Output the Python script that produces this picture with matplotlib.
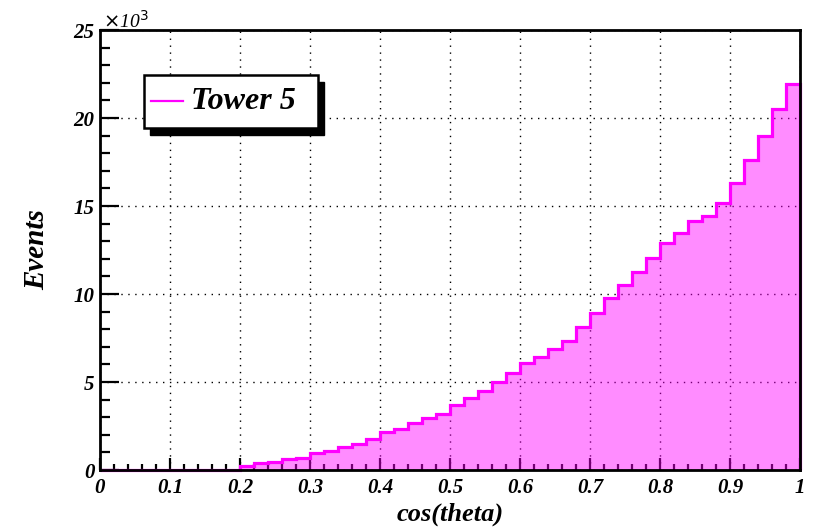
import numpy as np
import matplotlib
matplotlib.use("Agg")
from matplotlib import pyplot as plt
from matplotlib.patches import Rectangle
from matplotlib.lines import Line2D
from matplotlib.ticker import MultipleLocator, FixedLocator

# cos(theta) histogram, 50 bins of 0.02
edges = np.linspace(0.0, 1.0, 51)
counts = [0, 0, 0, 0, 0, 0, 0, 0, 0, 0,
          250, 380, 470, 600, 700, 950, 1100, 1300, 1500, 1780,
          2140, 2340, 2660, 2940, 3180, 3690, 4100, 4490, 5020, 5490,
          6060, 6440, 6860, 7350, 8100, 8940, 9750, 10510, 11270, 12030,
          12880, 13470, 14160, 14450, 15190, 16290, 17610, 18980, 20490, 21930]
x_ticks = [0, 0.1, 0.2, 0.3, 0.4, 0.5, 0.6, 0.7, 0.8, 0.9, 1.0]
x_labels = ["0", "0.1", "0.2", "0.3", "0.4", "0.5", "0.6", "0.7", "0.8", "0.9", "1"]
y_ticks = [0, 5000, 10000, 15000, 20000, 25000]
y_labels = ["0", "5", "10", "15", "20", "25"]
series_name = "Tower 5"

FONT = dict(family="Liberation Serif", weight="bold", style="italic")
MAG = "#ff00ff"

fig = plt.figure(figsize=(8.17, 5.30), dpi=100)
ax = fig.add_axes([100 / 817, 60 / 530, 700 / 817, 440 / 530])

ax.stairs(counts, edges, fill=True, facecolor=MAG, alpha=0.45, edgecolor="none", zorder=2)
ax.stairs(counts, edges, color=MAG, linewidth=2.3, zorder=3, clip_on=False)

ax.set_xlim(0, 1)
ax.set_ylim(0, 25000)

ax.xaxis.set_major_locator(FixedLocator(x_ticks))
ax.set_xticklabels(x_labels, fontdict=FONT, fontsize=15)
ax.xaxis.set_minor_locator(MultipleLocator(0.02))
ax.yaxis.set_major_locator(FixedLocator(y_ticks))
ax.set_yticklabels(y_labels, fontdict=FONT, fontsize=15)
ax.yaxis.set_minor_locator(MultipleLocator(1000))

ax.tick_params(axis="x", which="major", direction="in", length=9, width=1.6, pad=6)
ax.tick_params(axis="x", which="minor", direction="in", length=4, width=1.6)
ax.tick_params(axis="y", which="major", direction="in", length=14, width=1.6, pad=4)
ax.tick_params(axis="y", which="minor", direction="in", length=7, width=1.6)
ax.tick_params(top=False, right=False, which="both")

for s in ax.spines.values():
    s.set_linewidth(2.0)
    s.set_zorder(5)

ax.grid(True, which="major", color="black", linestyle=(0, (1, 4)), linewidth=1.0)
ax.set_axisbelow(True)

ax.set_xlabel("cos(theta)", fontdict=FONT, fontsize=19, labelpad=3)
ax.set_ylabel("Events", fontdict=FONT, fontsize=21, labelpad=17)
fig.text(103 / 817, 1 - 21 / 530, r"$\times$10$^{3}$", fontsize=14, family="Liberation Serif",
         style="italic", va="center", ha="left")

# legend box with shadow
W, H = 817.0, 530.0
fig.patches.append(Rectangle((150 / W, 1 - 135 / H), 174 / W, 53 / H, transform=fig.transFigure,
                             facecolor="black", edgecolor="black", zorder=10))
fig.patches.append(Rectangle((144 / W, 1 - 128 / H), 174 / W, 53 / H, transform=fig.transFigure,
                             facecolor="white", edgecolor="black", linewidth=1.8, zorder=11))
fig.lines.append(Line2D([151 / W, 183 / W], [1 - 101 / H, 1 - 101 / H], transform=fig.transFigure,
                        color=MAG, linewidth=1.6, zorder=12))
fig.text(191 / W, 1 - 101 / H, series_name, fontdict=FONT, fontsize=23, va="center", ha="left",
         zorder=12)

fig.savefig("out.png", dpi=100)
plt.close()
